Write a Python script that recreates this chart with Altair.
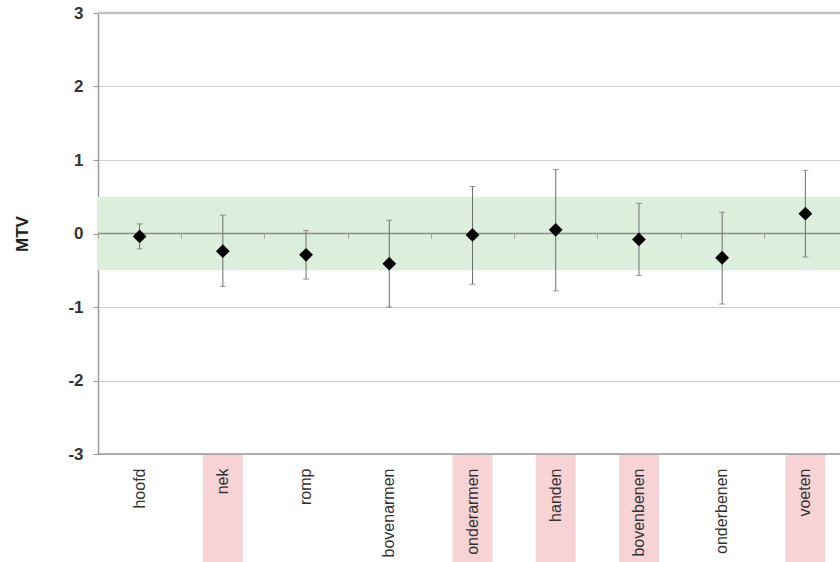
import altair as alt
import pandas as pd

# Body parts and their MTV statistics (mean with lower/upper bounds)
categories = ["hoofd", "nek", "romp", "bovenarmen", "onderarmen",
              "handen", "bovenbenen", "onderbenen", "voeten"]
means = [-0.04, -0.24, -0.29, -0.41, -0.02, 0.05, -0.08, -0.33, 0.27]
upper = [0.13, 0.25, 0.04, 0.18, 0.64, 0.87, 0.41, 0.29, 0.86]
lower = [-0.21, -0.72, -0.62, -1.00, -0.69, -0.78, -0.57, -0.96, -0.32]
highlighted = ["nek", "onderarmen", "handen", "bovenbenen", "voeten"]

y_ticks = [-3, -2, -1, 0, 1, 2, 3]
comfort_low, comfort_high = -0.5, 0.5

df = pd.DataFrame({
    "deel": categories,
    "mtv": means,
    "hoog": upper,
    "laag": lower,
    "markering": [c in highlighted for c in categories],
})

W, H = 742, 441
FONT = "Liberation Sans"

x_scale = alt.Scale(domain=categories, range=[0, 749], paddingInner=0, paddingOuter=0)
y_scale = alt.Scale(domain=[y_ticks[0], y_ticks[-1]], nice=False, zero=False)

# Neutral comfort zone band
band = alt.Chart(pd.DataFrame({"lo": [comfort_low], "hi": [comfort_high]})).mark_rect(
    color="#dcefdc"
).encode(
    y=alt.Y("lo:Q", scale=y_scale, axis=alt.Axis(
        values=y_ticks, labelExpr="'' + datum.value",
        grid=True, gridColor="#cfcfcf", gridWidth=1,
        domainColor="#9a9a9a", domainWidth=1.5, tickColor="#9a9a9a", tickSize=5,
        labelFont=FONT, labelFontSize=17, labelFontWeight="bold", labelColor="#333333",
        labelPadding=10, title="MTV", titleFont=FONT, titleFontSize=17,
        titleFontWeight="bold", titleColor="#222222", titleX=-76, titleY=H / 2,
        titleAlign="center", titleBaseline="middle", titleAngle=-90,
    )),
    y2="hi:Q",
)

# Frame lines at the top and bottom of the value range
frame = alt.Chart(pd.DataFrame({"v": [y_ticks[-1], y_ticks[0]], "c": ["top", "bottom"]})).mark_rule().encode(
    y=alt.Y("v:Q", scale=y_scale),
    color=alt.Color("c:N", scale=alt.Scale(domain=["top", "bottom"], range=["#c4c4c4", "#9a9a9a"]), legend=None),
    strokeWidth=alt.StrokeWidth("c:N", scale=alt.Scale(domain=["top", "bottom"], range=[2.5, 1.5]), legend=None),
)

# Highlight strips behind selected category labels
strips = alt.Chart(df).transform_filter("datum.markering").mark_bar(
    color="#f8d3d6", width=40, clip=False
).encode(
    x=alt.X("deel:N", scale=x_scale, sort=categories, axis=None),
    y=alt.value(H + 1),
    y2=alt.value(H + 108),
)

# Category axis line crossing at zero
zero = alt.Chart(pd.DataFrame({"v": [0]})).mark_rule(color="#8a8a8a", strokeWidth=1.5).encode(
    y=alt.Y("v:Q", scale=y_scale),
)

# Error bars with small caps
bars = alt.Chart(df).mark_rule(color="#6e6e6e", strokeWidth=1).encode(
    x=alt.X("deel:N", scale=x_scale, sort=categories, axis=alt.Axis(
        orient="bottom", offset=-H / 2, labels=False, domain=False, ticks=True,
        tickBand="extent", tickSize=5, tickColor="#a8a8a8", title=None, zindex=1,
    )),
    y=alt.Y("laag:Q", scale=y_scale),
    y2="hoog:Q",
)
cap_hi = alt.Chart(df).mark_tick(color="#6e6e6e", size=6, thickness=1).encode(
    x=alt.X("deel:N", scale=x_scale, sort=categories, axis=None),
    y=alt.Y("hoog:Q", scale=y_scale),
)
cap_lo = alt.Chart(df).mark_tick(color="#6e6e6e", size=6, thickness=1).encode(
    x=alt.X("deel:N", scale=x_scale, sort=categories, axis=None),
    y=alt.Y("laag:Q", scale=y_scale),
)

# Mean markers
points = alt.Chart(df).mark_point(shape="diamond", filled=True, color="black", size=190, opacity=1).encode(
    x=alt.X("deel:N", scale=x_scale, sort=categories, axis=alt.Axis(
        orient="bottom", domain=False, ticks=False, labelAngle=-90, labelPadding=14,
        labelFont=FONT, labelFontSize=16, labelColor="#333333", title=None, zindex=1,
    )),
    y=alt.Y("mtv:Q", scale=y_scale),
)

chart = alt.layer(band, frame, strips, zero, bars, cap_hi, cap_lo, points).resolve_axis(
    x="independent"
).properties(
    width=W, height=H,
    autosize=alt.AutoSizeParams(type="none"),
    padding={"left": 98, "top": 13, "right": 0, "bottom": 108},
    background="white",
).configure_view(stroke="transparent")

chart.save("out.html", embed_options={"renderer": "svg", "actions": False})
